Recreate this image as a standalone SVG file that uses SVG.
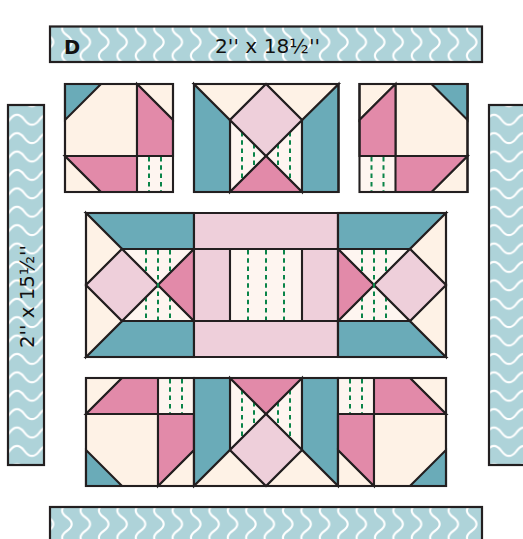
<svg xmlns="http://www.w3.org/2000/svg" width="523" height="539" viewBox="0 0 523 539">
<style>
polygon,rect.o{stroke:#231f20;stroke-width:2.1;stroke-linejoin:miter}
.t{fill:#6aabb8}.c{fill:#fef2e6}.p{fill:#e28aa9}.l{fill:#eecfda}.w{fill:#fef5f0}
.o{fill:none}
.s{stroke:#0a8449;stroke-width:2;stroke-dasharray:4.5 3.8;fill:none}
.strip{stroke:#231f20;stroke-width:2.2}
text{font-family:"DejaVu Sans","Liberation Sans",sans-serif;fill:#111}
.lab{font-size:19px}
.d{font-size:19.500px;font-weight:700}
</style>
<defs>
<pattern id="wv" patternUnits="userSpaceOnUse" width="18.4" height="27.2" patternTransform="translate(40 28.5)">
<rect width="18.4" height="27.2" fill="#aed3d9"/>
<path d="M3.700 0C3.700 6.800 13.300 6.800 13.300 13.600C13.300 20.400 3.700 20.400 3.700 27.200" fill="none" stroke="#fff" stroke-width="2.1"/>
</pattern>
<pattern id="wv2" href="#wv" patternTransform="translate(40 510.5)"/>
<pattern id="wh" patternUnits="userSpaceOnUse" width="30" height="18.4" patternTransform="translate(9.5 111)">
<rect width="30" height="18.4" fill="#aed3d9"/>
<path d="M-7.500 13.700C0 13.700 0 3.800 7.500 3.800C15 3.800 15 13.700 22.500 13.700C30 13.700 30 3.800 37.500 3.800" fill="none" stroke="#fff" stroke-width="2.1"/>
</pattern>
<pattern id="wh2" href="#wh" patternTransform="translate(486.5 111)"/>
</defs>

<g id="strip-top">
<rect class="strip" x="50" y="26.5" width="432" height="35.5" fill="url(#wv)"/>
<text class="d" x="64" y="54">D</text>
<text class="lab" x="215" y="53" textLength="105" lengthAdjust="spacingAndGlyphs">2'' x 18½''</text>
</g>
<g id="strip-left">
<rect class="strip" x="8" y="105" width="36" height="360" fill="url(#wh)"/>
<text class="lab" transform="translate(34 348) rotate(-90)" textLength="103" lengthAdjust="spacingAndGlyphs">2'' x 15½''</text>
</g>
<g id="strip-right">
<rect class="strip" x="489" y="105" width="40" height="360" fill="url(#wh2)"/>
</g>
<g id="strip-bottom">
<rect class="strip" x="50" y="507" width="432" height="40" fill="url(#wv2)"/>
</g>

<g id="block-top-left">
<rect class="w" x="137" y="156" width="36" height="36"/>
<path class="s" d="M149 157V192M161 157V192"/>
<polygon class="c" points="65,84 137,84 137,156 65,156"/>
<polygon class="t" points="65,84 101,84 65,120"/>
<polygon class="c" points="137,84 173,84 173,120"/>
<polygon class="p" points="137,84 173,120 173,156 137,156"/>
<polygon class="c" points="65,156 101,192 65,192"/>
<polygon class="p" points="65,156 137,156 137,192 101,192"/>
<rect class="o" x="65" y="84" width="108" height="108"/>
</g>

<g id="block-top-middle">
<polygon class="w" points="230,120 266,156 230,192"/>
<polygon class="w" points="302,120 266,156 302,192"/>
<path class="s" d="M242 132V180M254 144V168M278 144V168M290 132V180"/>
<polygon class="t" points="194,84 230,120 230,192 194,192"/>
<polygon class="t" points="338.500,84 338.500,192 302,192 302,120"/>
<polygon class="c" points="194,84 266,84 230,120"/>
<polygon class="c" points="266,84 338.500,84 302,120"/>
<polygon class="l" points="266,84 302,120 266,156 230,120"/>
<polygon class="p" points="266,156 302,192 230,192"/>
<rect class="o" x="194" y="84" width="144.500" height="108"/>
</g>

<g id="block-top-right">
<rect class="w" x="359.500" y="156" width="36" height="36"/>
<path class="s" d="M371.500 157V192M383.500 157V192"/>
<polygon class="c" points="395.500,84 467.500,84 467.500,156 395.500,156"/>
<polygon class="t" points="431.500,84 467.500,84 467.500,120"/>
<polygon class="c" points="359.500,84 395.500,84 359.500,120"/>
<polygon class="p" points="395.500,84 395.500,156 359.500,156 359.500,120"/>
<polygon class="c" points="467.500,156 467.500,192 431.500,192"/>
<polygon class="p" points="395.500,156 467.500,156 431.500,192 395.500,192"/>
<rect class="o" x="359.500" y="84" width="108" height="108"/>
</g>

<g id="block-middle-left">
<polygon class="w" points="122,249 194,249 158,285"/>
<polygon class="w" points="122,321 194,321 158,285"/>
<path class="s" d="M146 250V273M158 250V320M170 250V273M146 297V320M170 297V320"/>
<polygon class="t" points="86,213 194,213 194,249 122,249"/>
<polygon class="t" points="122,321 194,321 194,357 86,357"/>
<polygon class="c" points="86,213 122,249 86,285"/>
<polygon class="c" points="86,285 122,321 86,357"/>
<polygon class="l" points="86,285 122,249 158,285 122,321"/>
<polygon class="p" points="194,249 194,321 158,285"/>
<rect class="o" x="86" y="213" width="108" height="144"/>
<path class="s" d="M158 283V287" stroke-dasharray="none"/>
</g>

<g id="block-middle-centre">
<rect class="w" x="230" y="249" width="72" height="72"/>
<path class="s" d="M248 250V320M266 250V320M284 250V320"/>
<polygon class="l" points="194,213 338,213 338,249 194,249"/>
<polygon class="l" points="194,321 338,321 338,357 194,357"/>
<polygon class="l" points="194,249 230,249 230,321 194,321"/>
<polygon class="l" points="302,249 338,249 338,321 302,321"/>
</g>

<g id="block-middle-right">
<polygon class="w" points="338,249 410,249 374,285"/>
<polygon class="w" points="338,321 410,321 374,285"/>
<path class="s" d="M362 250V273M374 250V320M386 250V273M362 297V320M386 297V320"/>
<polygon class="t" points="338,213 446,213 410,249 338,249"/>
<polygon class="t" points="338,321 410,321 446,357 338,357"/>
<polygon class="c" points="446,213 446,285 410,249"/>
<polygon class="c" points="446,285 446,357 410,321"/>
<polygon class="l" points="374,285 410,249 446,285 410,321"/>
<polygon class="p" points="338,249 374,285 338,321"/>
<rect class="o" x="338" y="213" width="108" height="144"/>
<path class="s" d="M374 283V287" stroke-dasharray="none"/>
</g>

<g id="block-bottom-left">
<rect class="w" x="158" y="378" width="36" height="36"/>
<path class="s" d="M170 379V414M182 379V414"/>
<polygon class="c" points="86,378 122,378 86,414"/>
<polygon class="p" points="122,378 158,378 158,414 86,414"/>
<polygon class="c" points="86,414 158,414 158,486 86,486"/>
<polygon class="t" points="86,450 122,486 86,486"/>
<polygon class="c" points="194,450 194,486 158,486"/>
<polygon class="p" points="158,414 194,414 194,450 158,486"/>
<rect class="o" x="86" y="378" width="108" height="108"/>
</g>

<g id="block-bottom-middle">
<polygon class="w" points="230,378 266,414 230,450"/>
<polygon class="w" points="302,378 266,414 302,450"/>
<path class="s" d="M242 390V438M254 402V426M278 402V426M290 390V438"/>
<polygon class="t" points="194,378 230,378 230,450 194,486"/>
<polygon class="t" points="302,378 338,378 338,486 302,450"/>
<polygon class="c" points="194,486 230,450 266,486"/>
<polygon class="c" points="266,486 302,450 338,486"/>
<polygon class="l" points="266,414 302,450 266,486 230,450"/>
<polygon class="p" points="230,378 302,378 266,414"/>
<rect class="o" x="194" y="378" width="144" height="108"/>
</g>

<g id="block-bottom-right">
<rect class="w" x="338" y="378" width="36" height="36"/>
<path class="s" d="M350 379V414M362 379V414"/>
<polygon class="c" points="410,378 446,378 446,414"/>
<polygon class="p" points="374,378 410,378 446,414 374,414"/>
<polygon class="c" points="338,450 374,486 338,486"/>
<polygon class="p" points="338,414 374,414 374,486 338,450"/>
<polygon class="c" points="374,414 446,414 446,486 374,486"/>
<polygon class="t" points="446,450 446,486 410,486"/>
<rect class="o" x="338" y="378" width="108" height="108"/>
</g>
</svg>
